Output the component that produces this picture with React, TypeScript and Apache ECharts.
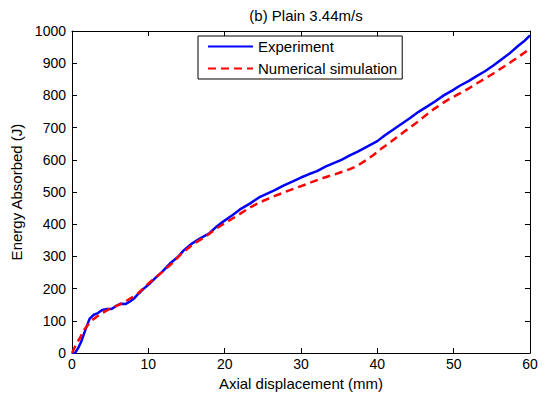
import React, { useEffect, useRef } from "react";
import * as echarts from "echarts";

const experiment: [number, number][] = [
  [0, 0], [0.4, 0], [0.8, 15], [1.2, 35], [1.8, 75], [2.3, 106], [2.8, 118], [3.4, 124], [4.0, 134],
  [4.6, 137], [5.2, 137], [5.8, 146], [6.4, 153], [7.0, 152], [7.6, 160], [8.2, 171], [8.7, 184],
  [9.4, 200], [10.2, 216], [11.0, 235], [11.8, 252], [12.8, 277], [13.9, 299], [14.6, 318],
  [15.6, 338], [16.8, 356], [18.0, 372], [19.0, 394], [19.8, 408], [21, 428], [22, 446],
  [23.3, 464], [24.5, 483], [25.5, 494], [26.5, 505], [27.7, 520], [29, 534], [30, 545],
  [31, 555], [32.1, 565], [33.2, 579], [34.2, 589], [35.3, 600], [36.4, 614], [37.5, 626],
  [38.6, 640], [40, 658], [41, 676], [42.1, 694], [43, 709], [44.3, 730], [45.4, 749],
  [46.5, 765], [47.6, 782], [48.7, 800], [49.8, 815], [50.8, 830], [52, 845], [53, 860],
  [54.1, 875], [55.2, 893], [56.3, 912], [57.4, 932], [58.5, 955], [59.3, 970], [60, 986],
];

const simulation: [number, number][] = [
  [0, 0], [0.5, 25], [1.0, 45], [1.6, 72], [2.5, 100], [3.2, 112], [4.0, 125], [5.0, 138],
  [6.2, 150], [7.2, 163], [8.5, 182], [10.2, 220], [11.5, 245], [13, 276], [14.5, 312],
  [16, 340], [17.5, 362], [19, 388], [20.5, 410], [22, 432], [23.3, 452], [25, 472],
  [26.5, 487], [27.7, 498], [29, 510], [30, 518], [31, 527], [32.1, 537], [33.2, 546],
  [34.2, 553], [35.3, 562], [36.4, 571], [37.3, 580], [38.0, 591], [38.6, 600], [39.5, 615],
  [40.5, 634], [41.5, 651], [42.5, 669], [43.5, 687], [44.5, 704], [45.5, 722], [46.5, 741],
  [47.5, 759], [48.5, 775], [49.5, 790], [50.8, 806], [52, 822], [53, 837], [54.1, 852],
  [55.2, 868], [56.3, 885], [57.4, 902], [58.5, 920], [59.3, 933], [60, 946],
];

const seriesNames = ["Experiment", "Numerical simulation"];
const titleText = "(b) Plain 3.44m/s";
const xName = "Axial displacement (mm)";
const yName = "Energy Absorbed (J)";

const FONT = "'Liberation Sans', Arial, sans-serif";

export default function App() {
  const ref = useRef<HTMLDivElement>(null);
  useEffect(() => {
    if (!ref.current) return;
    const chart = echarts.init(ref.current, null, { renderer: "svg" });
    const axisCommon = {
      min: 0,
      axisLine: { show: true, onZero: false, lineStyle: { color: "#000", width: 1 } },
      axisTick: { show: true, inside: true, length: 5, lineStyle: { color: "#000" } },
      splitLine: { show: false },
    };
    chart.setOption({
      animation: false,
      backgroundColor: "#fff",
      textStyle: { fontFamily: FONT },
      title: {
        text: titleText,
        left: 301,
        textAlign: "center",
        top: 3,
        textStyle: { fontSize: 15, fontWeight: "normal", color: "#000", fontFamily: FONT },
      },
      legend: {
        left: 198,
        top: 36,
        orient: "vertical",
        itemWidth: 45,
        itemHeight: 14,
        itemGap: 7,
        padding: [3, 5, 3, 9],
        borderColor: "#000",
        borderWidth: 1,
        backgroundColor: "#fff",
        itemStyle: { opacity: 0 },
        textStyle: { fontSize: 15, color: "#000", fontFamily: FONT },
        data: seriesNames,
      },
      grid: { left: 72, right: 14, top: 31, bottom: 48, containLabel: false },
      xAxis: [
        {
          ...axisCommon,
          type: "value",
          max: 60,
          interval: 10,
          position: "bottom",
          name: xName,
          nameLocation: "middle",
          nameGap: 22,
          nameTextStyle: { fontSize: 15, color: "#000", fontFamily: FONT },
          axisLabel: { fontSize: 14, color: "#000", margin: 4, fontFamily: FONT },
        },
        {
          ...axisCommon,
          type: "value",
          max: 60,
          interval: 10,
          position: "top",
          axisLabel: { show: false },
        },
      ],
      yAxis: [
        {
          ...axisCommon,
          type: "value",
          max: 1000,
          interval: 100,
          position: "left",
          name: yName,
          nameLocation: "middle",
          nameGap: 44,
          nameTextStyle: { fontSize: 15, color: "#000", fontFamily: FONT },
          axisLabel: {
            fontSize: 14,
            color: "#000",
            margin: 6,
            fontFamily: FONT,
            formatter: (v: number) => String(v),
          },
        },
        {
          ...axisCommon,
          type: "value",
          max: 1000,
          interval: 100,
          position: "right",
          axisLabel: { show: false },
        },
      ],
      series: [
        {
          name: seriesNames[0],
          type: "line",
          data: experiment,
          showSymbol: false,
          symbol: "none",
          smooth: false,
          lineStyle: { color: "#0000ff", width: 2.5 },
          itemStyle: { color: "#0000ff" },
          z: 2,
        },
        {
          name: seriesNames[1],
          type: "line",
          data: simulation,
          showSymbol: false,
          symbol: "none",
          smooth: false,
          lineStyle: { color: "#ff0000", width: 2.5, type: [8, 5] },
          itemStyle: { color: "#ff0000" },
          z: 3,
        },
      ],
    });
    return () => chart.dispose();
  }, []);
  return <div ref={ref} style={{ width: 544, height: 401, position: "absolute", left: 0, top: 0 }} />;
}
